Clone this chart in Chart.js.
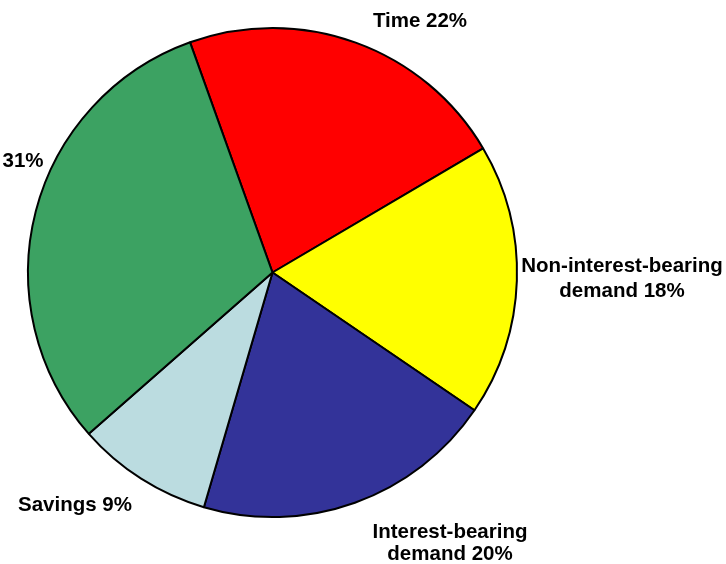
<!DOCTYPE html>
<html>
<head>
<meta charset="utf-8">
<title>Deposits by type</title>
<script src="https://cdn.jsdelivr.net/npm/chart.js@4.4.1/dist/chart.umd.min.js"></script>
<style>
  html, body { margin: 0; padding: 0; background: #ffffff; }
  #wrap { width: 726px; height: 564px; position: relative; }
</style>
</head>
<body>
<div id="wrap"><canvas id="depositsPie" width="726" height="564"></canvas></div>
<script>
// ---- Data ----
const categories = ['Time', 'Non-interest-bearing demand', 'Interest-bearing demand', 'Savings', ''];
const shares = [22, 18, 20, 9, 31];
const sliceColors = ['#ff0000', '#ffff00', '#333399', '#bbdce0', '#3ca262'];

// how each category name is broken over lines in its label
const nameLines = [['Time'], ['Non-interest-bearing', 'demand'], ['Interest-bearing', 'demand'], ['Savings'], ['']];

// label anchor (centre x, first baseline y) and line step, per slice
const labelLayout = [
  { x: 420, y: 27, step: 0 },
  { x: 622, y: 272, step: 25 },
  { x: 450, y: 538, step: 22 },
  { x: 75, y: 511, step: 0 },
  { x: 23, y: 167, step: 0 }
];

function labelText(i) {
  const lines = nameLines[i].slice();
  const last = lines.length - 1;
  lines[last] = (lines[last] ? lines[last] + ' ' : '') + shares[i] + '%';
  return lines;
}

// ---- Slice labels ----
const sliceLabels = {
  id: 'sliceLabels',
  afterDraw(chart) {
    const ctx = chart.ctx;
    ctx.save();
    ctx.font = 'bold 20.5px "Liberation Sans", Arial, sans-serif';
    ctx.fillStyle = '#000000';
    ctx.textAlign = 'center';
    ctx.textBaseline = 'alphabetic';
    shares.forEach((v, i) => {
      const pos = labelLayout[i];
      labelText(i).forEach((line, k) => {
        ctx.fillText(line, pos.x, pos.y + k * pos.step);
      });
    });
    ctx.restore();
  }
};

new Chart(document.getElementById('depositsPie'), {
  type: 'pie',
  data: {
    labels: categories,
    datasets: [{
      data: shares,
      backgroundColor: sliceColors,
      borderColor: '#000000',
      borderWidth: 2,
      borderAlign: 'center'
    }]
  },
  options: {
    responsive: false,
    animation: false,
    rotation: -19.7,
    layout: { padding: { left: 27, top: 27, right: 208, bottom: 46 } },
    plugins: {
      legend: { display: false },
      tooltip: { enabled: false }
    }
  },
  plugins: [sliceLabels]
});
</script>
</body>
</html>
